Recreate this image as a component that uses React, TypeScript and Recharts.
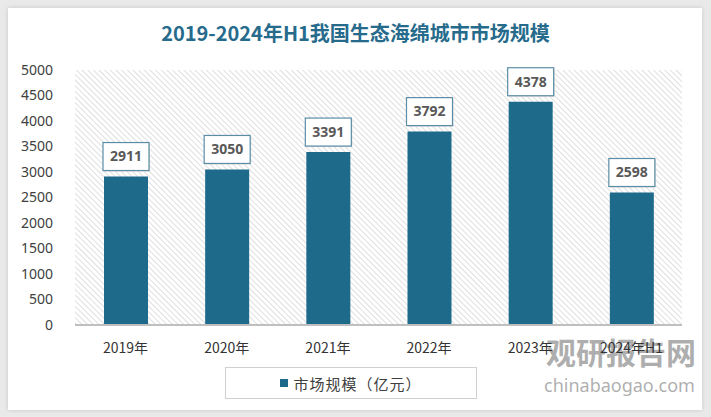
import { BarChart, Bar, XAxis, YAxis, CartesianGrid, LabelList } from "recharts";

// 市场规模（亿元）
const years = ["2019年", "2020年", "2021年", "2022年", "2023年", "2024年H1"];
const marketSize = [2911, 3050, 3391, 3792, 4378, 2598];
const yTicks = [0, 500, 1000, 1500, 2000, 2500, 3000, 3500, 4000, 4500, 5000];
const seriesName = "市场规模（亿元）";

const BAR_COLOR = "#1d6a8b";

const chartData = years.map((year, i) => ({ year, value: marketSize[i] }));

function ValueBox(props: any) {
  const { x, y, width, value } = props;
  const w = 46;
  const h = 28;
  const cx = x + width / 2;
  const top = y - 6 - h;
  return (
    <g>
      <rect x={cx - w / 2 + 1} y={top + 1} width={w} height={h} fill="#d8d8d8" />
      <rect x={cx - w / 2} y={top} width={w} height={h} fill="#ffffff" stroke="#5b8ea6" strokeWidth={1.2} />
      <text
        x={cx}
        y={top + h / 2 + 1}
        textAnchor="middle"
        dominantBaseline="middle"
        fill="#595959"
        fontSize={14}
        fontWeight="bold"
        fontFamily="'Noto Sans', sans-serif"
      >
        {value}
      </text>
    </g>
  );
}

export default function App() {
  return (
    <div style={{ position: "relative", width: 711, height: 417, background: "#e9e9e9", overflow: "hidden" }}>
      <style>{`body{margin:0}`}</style>
      <svg width={0} height={0} style={{ position: "absolute" }}>
        <defs>
          <pattern id="hatch" width={4} height={4} patternUnits="userSpaceOnUse" patternTransform="rotate(-45)">
            <line x1={0} y1={0} x2={0} y2={4} stroke="#cdcdcd" strokeWidth={1.3} />
          </pattern>
        </defs>
      </svg>
      <div
        style={{
          position: "absolute",
          left: 8,
          top: 8,
          width: 694,
          height: 402,
          background: "#ffffff",
          boxShadow: "0 0 4px rgba(0,0,0,0.15)",
        }}
      />
      {/* watermark, under the chart */}
      <div
        style={{
          position: "absolute",
          left: 546,
          top: 333,
          fontFamily: "'Noto Sans CJK SC', sans-serif",
          fontWeight: "bold",
          fontSize: 30,
          color: "rgba(120,120,120,0.6)",
          lineHeight: "36px",
          whiteSpace: "nowrap",
        }}
      >
        观研报告网
      </div>
      <div
        style={{
          position: "absolute",
          left: 544,
          top: 373,
          fontFamily: "'Noto Sans', sans-serif",
          fontSize: 18,
          color: "rgba(120,120,120,0.6)",
          lineHeight: "24px",
          whiteSpace: "nowrap",
        }}
      >
        chinabaogao.com
      </div>
      <div
        style={{
          position: "absolute",
          left: 0,
          top: 19,
          width: 711,
          textAlign: "center",
          fontFamily: "'Noto Sans CJK SC', serif",
          fontWeight: "bold",
          fontSize: 20,
          color: "#276b8c",
          lineHeight: "28px",
        }}
      >
        2019-2024年H1我国生态海绵城市市场规模
      </div>
      <div style={{ position: "absolute", left: 0, top: 0 }}>
        <BarChart
          width={711}
          height={417}
          data={chartData}
          margin={{ top: 70, right: 29, bottom: 62, left: 0 }}
          barCategoryGap={0}
        >
          <CartesianGrid horizontal={false} vertical={false} fill="url(#hatch)" />
          <XAxis
            dataKey="year"
            height={30}
            tickLine={false}
            axisLine={{ stroke: "#bfbfbf", strokeWidth: 2 }}
            tick={{ fill: "#333333", fontSize: 14, fontFamily: "'Noto Sans CJK SC', sans-serif" }}
            tickMargin={12}
            interval={0}
          />
          <YAxis
            width={75}
            domain={[0, 5000]}
            ticks={yTicks}
            interval={0}
            axisLine={false}
            tickLine={false}
            tickMargin={16}
            tick={{ fill: "#404040", fontSize: 14, fontFamily: "'Noto Sans', sans-serif" }}
          />
          <Bar dataKey="value" name={seriesName} fill={BAR_COLOR} barSize={44} isAnimationActive={false}>
            <LabelList dataKey="value" content={<ValueBox />} />
          </Bar>
        </BarChart>
      </div>
      <div
        style={{
          position: "absolute",
          left: 225,
          top: 367,
          width: 250,
          height: 30,
          border: "1px solid #d0d0d0",
          background: "#fff",
          display: "flex",
          alignItems: "center",
          justifyContent: "center",
          fontFamily: "'Noto Sans CJK SC', sans-serif",
          fontSize: 15,
          color: "#404040",
          letterSpacing: 1,
        }}
      >
        <span style={{ width: 8, height: 8, background: BAR_COLOR, display: "inline-block", marginRight: 5 }} />
        {seriesName}
      </div>
    </div>
  );
}
